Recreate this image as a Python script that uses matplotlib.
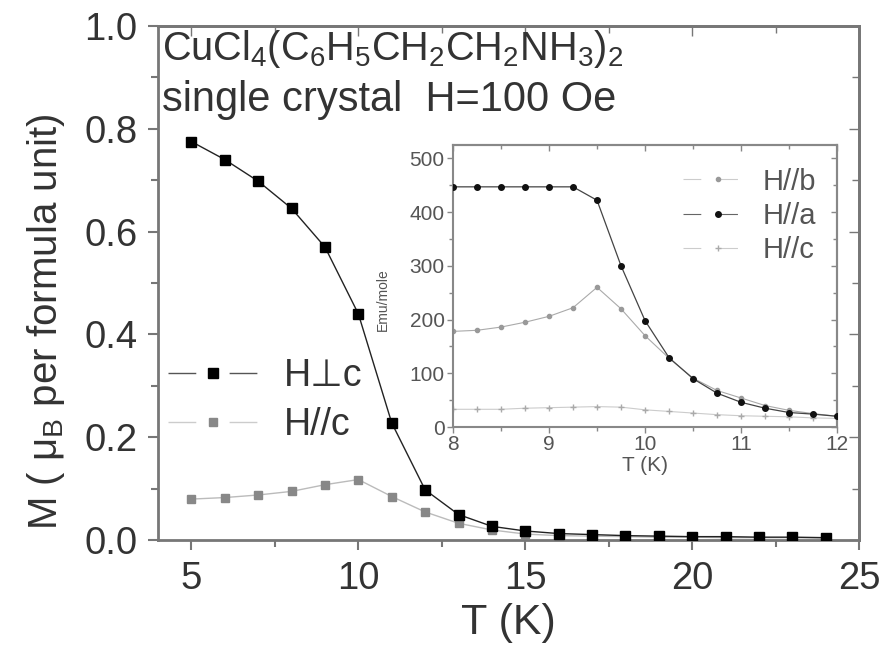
import matplotlib
matplotlib.use("Agg")
import matplotlib.pyplot as plt
from matplotlib.lines import Line2D
from matplotlib.ticker import MultipleLocator

# main panel: M vs T, 100 Oe
T_main = [5, 6, 7, 8, 9, 10, 11, 12, 13, 14, 15, 16, 17, 18, 19, 20, 21, 22, 23, 24]
M_perp = [0.775, 0.740, 0.698, 0.645, 0.570, 0.440, 0.228, 0.098, 0.050, 0.027,
          0.018, 0.013, 0.011, 0.009, 0.008, 0.007, 0.007, 0.006, 0.006, 0.005]
M_par = [0.080, 0.083, 0.088, 0.095, 0.108, 0.118, 0.085, 0.055, 0.033, 0.020,
         0.012, 0.009, 0.008, 0.007, 0.006, 0.006, 0.005, 0.005, 0.005, 0.004]

# inset: emu/mole vs T
T_inset = [8.0, 8.25, 8.5, 8.75, 9.0, 9.25, 9.5, 9.75, 10.0, 10.25, 10.5,
           10.75, 11.0, 11.25, 11.5, 11.75, 12.0]
chi_a = [447, 447, 447, 447, 447, 447, 422, 300, 198, 129, 90, 63, 46, 35, 27, 24, 20]
chi_b = [178, 180, 186, 195, 206, 222, 260, 220, 170, 128, 91, 68, 54, 40, 31, 25, 20]
chi_c = [33, 33, 33, 35, 36, 37, 38, 37, 32, 29, 26, 23, 21, 20, 19, 17, 16]

plt.rcParams['font.family'] = ['Liberation Sans', 'DejaVu Sans']
plt.rcParams['mathtext.fontset'] = 'custom'
plt.rcParams['mathtext.rm'] = 'Liberation Sans'
plt.rcParams['mathtext.it'] = 'Liberation Sans'
plt.rcParams['mathtext.bf'] = 'Liberation Sans'
plt.rcParams['text.color'] = '#333333'

spine_col = '#777777'
txt_col = '#333333'
ins_col = '#888888'


def mirror_ticks(a, xmaj, xmin, ymaj, ymin, col, lw, maj_len, min_len):
    # inward ticks on top/right, like the original Origin plot
    sx = a.secondary_xaxis('top')
    sx.xaxis.set_major_locator(MultipleLocator(xmaj))
    sx.xaxis.set_minor_locator(MultipleLocator(xmin))
    sx.tick_params(which='both', direction='in', labeltop=False, colors=col, width=1.0)
    sx.tick_params(which='major', length=maj_len)
    sx.tick_params(which='minor', length=min_len)
    sx.spines['top'].set_color(col)
    sx.spines['top'].set_linewidth(lw)
    sy = a.secondary_yaxis('right')
    sy.yaxis.set_major_locator(MultipleLocator(ymaj))
    sy.yaxis.set_minor_locator(MultipleLocator(ymin))
    sy.tick_params(which='both', direction='in', labelright=False, colors=col, width=1.0)
    sy.tick_params(which='major', length=maj_len)
    sy.tick_params(which='minor', length=min_len)
    sy.spines['right'].set_color(col)
    sy.spines['right'].set_linewidth(lw)


fig = plt.figure(figsize=(8.83, 6.47), dpi=100)
ax = fig.add_axes([0.179, 0.165, 0.794, 0.795])

ax.plot(T_main, M_par, color='#bbbbbb', lw=1.0, marker='s', ms=5.5,
        mfc='#888888', mec='#888888', zorder=2)
ax.plot(T_main, M_perp, color='#222222', lw=1.0, marker='s', ms=7,
        mfc='black', mec='black', zorder=3)

ax.set_xlim(4, 25)
ax.set_ylim(0, 1.0)
ax.xaxis.set_major_locator(MultipleLocator(5))
ax.xaxis.set_minor_locator(MultipleLocator(2.5))
ax.yaxis.set_major_locator(MultipleLocator(0.2))
ax.yaxis.set_minor_locator(MultipleLocator(0.1))
ax.yaxis.set_major_formatter(matplotlib.ticker.FormatStrFormatter('%.1f'))
ax.tick_params(which='both', direction='out', colors=spine_col, labelcolor=txt_col,
               labelsize=27.5, width=1.5)
ax.tick_params(which='major', length=7, pad=8)
ax.tick_params(which='minor', length=5)
for s in ax.spines.values():
    s.set_color(spine_col)
    s.set_linewidth(2.0)
mirror_ticks(ax, 5, 2.5, 0.2, 0.1, spine_col, 2.0, 7, 5)

ax.set_xlabel('T (K)', fontsize=31, color=txt_col, labelpad=4)
ax.set_ylabel(r'M ( μ$_\mathregular{B}$ per formula unit)', fontsize=29, color=txt_col)
ax.yaxis.set_label_coords(-0.13, 0.425)

ax.text(0.006, 0.995, r'CuCl$_4$(C$_6$H$_5$CH$_2$CH$_2$NH$_3$)$_2$',
        transform=ax.transAxes, fontsize=28.5, va='top', ha='left')
ax.text(0.006, 0.895, 'single crystal  H=100 Oe',
        transform=ax.transAxes, fontsize=30, va='top', ha='left')

h_perp = Line2D([], [], color='#555555', lw=1.0, ls=(0, (20, 24)), marker='s',
                ms=7, mfc='black', mec='black')
h_par = Line2D([], [], color='#cccccc', lw=1.0, ls=(0, (20, 24)), marker='s',
               ms=5.5, mfc='#888888', mec='#888888')
leg = ax.legend([h_perp, h_par], ['H⊥c', 'H//c'], loc='center left',
                bbox_to_anchor=(0.014, 0.272), frameon=False, fontsize=27,
                handlelength=2.4, handletextpad=0.7, labelspacing=0.35,
                borderpad=0, borderaxespad=0, numpoints=1)
for t in leg.get_texts():
    t.set_color(txt_col)

# inset
ins = fig.add_axes([0.513, 0.340, 0.435, 0.436])
ins.plot(T_inset, chi_c, color='#cccccc', lw=0.8, marker='+', ms=4,
         mec='#aaaaaa', zorder=2)
ins.plot(T_inset, chi_b, color='#aaaaaa', lw=0.8, marker='o', ms=3,
         mfc='#999999', mec='#999999', zorder=2)
ins.plot(T_inset, chi_a, color='#444444', lw=0.9, marker='o', ms=4,
         mfc='#111111', mec='#111111', zorder=3)
ins.set_xlim(8, 12)
ins.set_ylim(0, 525)
ins.xaxis.set_major_locator(MultipleLocator(1))
ins.xaxis.set_minor_locator(MultipleLocator(0.5))
ins.yaxis.set_major_locator(MultipleLocator(100))
ins.yaxis.set_minor_locator(MultipleLocator(50))
ins.tick_params(which='both', direction='out', colors=ins_col, labelcolor='#555555',
                labelsize=15, width=1.0, top=False, right=False)
ins.tick_params(which='major', length=4, pad=2)
ins.tick_params(which='minor', length=3)
for s in ins.spines.values():
    s.set_color(ins_col)
    s.set_linewidth(1.5)
mirror_ticks(ins, 1, 0.5, 100, 50, ins_col, 1.5, 4, 3)

ins.set_xlabel('T (K)', fontsize=15, color='#555555', labelpad=1)
ins.set_ylabel('Emu/mole', fontsize=10, color='#555555')
ins.yaxis.set_label_coords(-0.165, 0.45)

hb = Line2D([], [], color='#cccccc', lw=0.8, ls=(0, (16, 17)), marker='o', ms=3,
            mfc='#999999', mec='#999999')
ha = Line2D([], [], color='#666666', lw=0.8, ls=(0, (16, 17)), marker='o', ms=4,
            mfc='#111111', mec='#111111')
hc = Line2D([], [], color='#cccccc', lw=0.8, ls=(0, (16, 17)), marker='+', ms=4,
            mec='#aaaaaa')
ileg = ins.legend([hb, ha, hc], ['H//b', 'H//a', 'H//c'], loc='center left',
                  bbox_to_anchor=(0.599, 0.748), frameon=False, fontsize=21,
                  handlelength=2.37, handletextpad=0.35, labelspacing=0.22,
                  borderpad=0, borderaxespad=0, numpoints=1)
for t in ileg.get_texts():
    t.set_color('#555555')

fig.savefig('out.png', dpi=100)
